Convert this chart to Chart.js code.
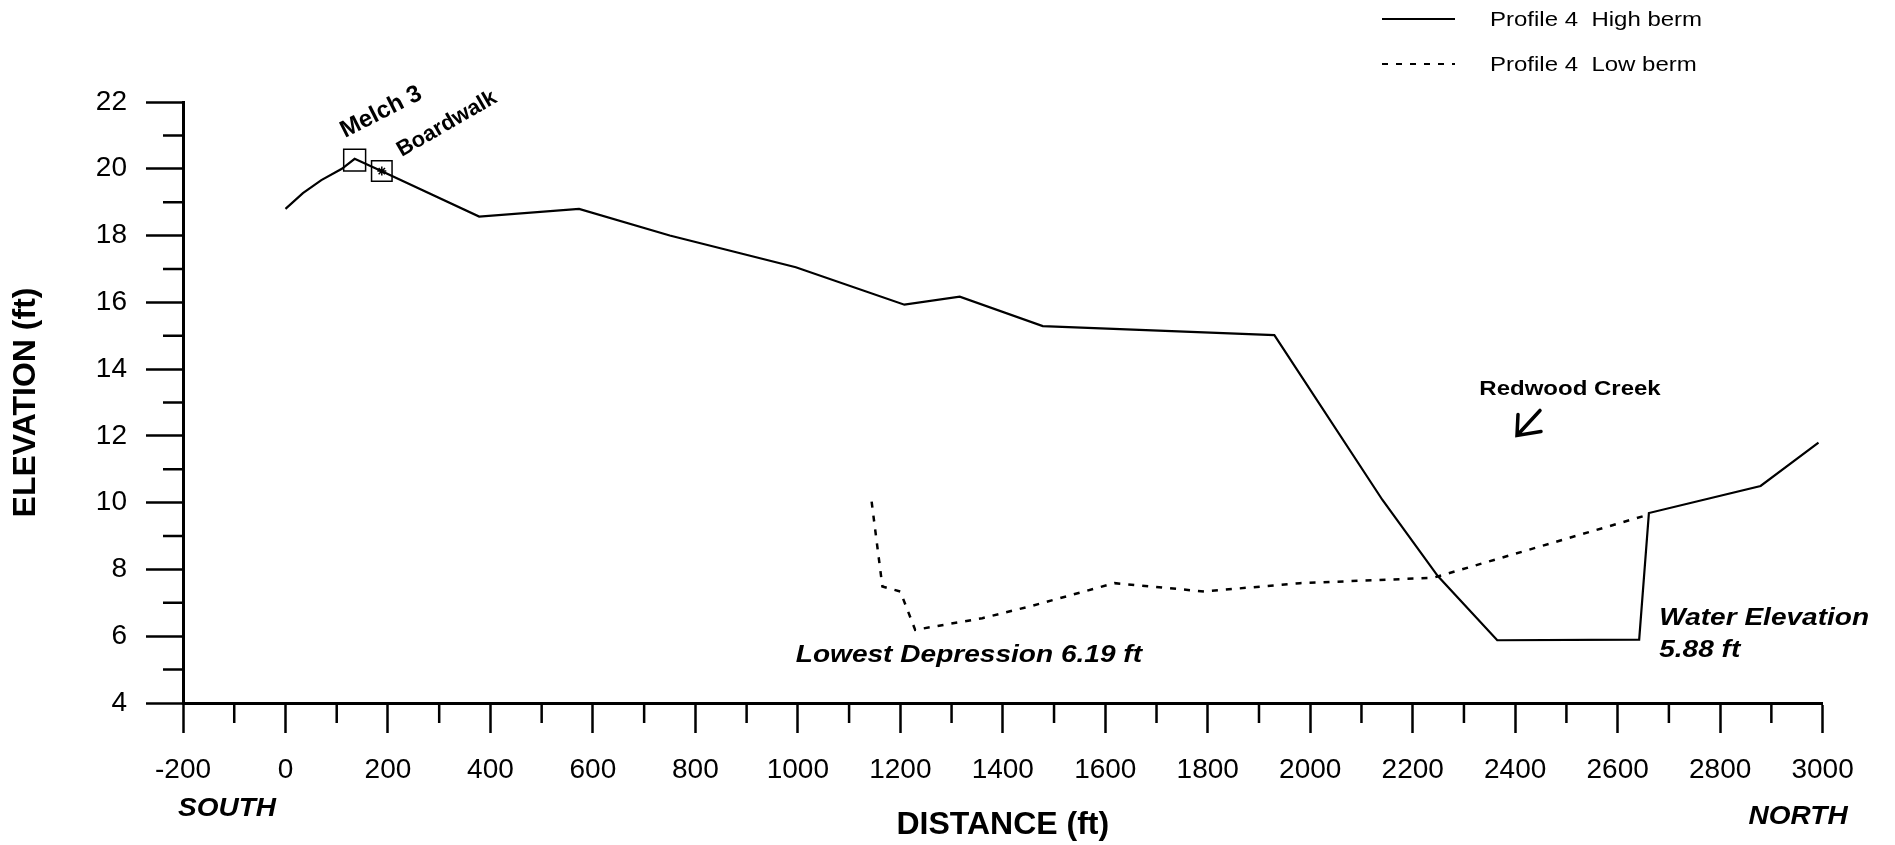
<!DOCTYPE html>
<html>
<head>
<meta charset="utf-8">
<script src="https://cdn.jsdelivr.net/npm/chart.js@4/dist/chart.umd.min.js"></script>
<style>
  html, body { margin: 0; padding: 0; background: #fff; }
  #wrap { width: 1895px; height: 845px; }
</style>
</head>
<body>
<div id="wrap"><canvas id="grafico"></canvas></div>
<script>
// Profile 4 - high berm (solid line)
const distHigh = [0, 34, 70, 110, 135, 185, 378, 573, 750, 996, 1208, 1316, 1478, 1930, 2141, 2249, 2365, 2642, 2661, 2879, 2992];
const elevHigh = [18.8, 19.27, 19.66, 20.0, 20.3, 19.95, 18.57, 18.8, 18.0, 17.05, 15.93, 16.17, 15.29, 15.02, 10.08, 7.8, 5.88, 5.9, 9.69, 10.5, 11.8];

// Profile 4 - low berm (dotted line)
const distLow = [1144, 1155, 1165, 1200, 1229, 1360, 1457, 1618, 1793, 1980, 2240, 2660];
const elevLow = [10.03, 8.7, 7.49, 7.34, 6.19, 6.54, 6.91, 7.59, 7.34, 7.59, 7.75, 9.64];

// marcos (Melch 3, Boardwalk)
const markDist = [135, 188];
const markElev = [20.26, 19.93];

const seriesLabels = ["Profile 4  High berm", "Profile 4  Low berm"];

const FONT = "'Liberation Sans', Arial, sans-serif";

function pts(xs, ys) {
    return xs.map((x, i) => ({ x: x, y: ys[i] }));
}

function drawText(ctx, txt, x, y, font, o) {
    o = o || {};
    ctx.save();
    ctx.translate(x, y);
    if (o.rot) ctx.rotate(o.rot * Math.PI / 180);
    ctx.scale(o.sx || 1, 1);
    ctx.font = font;
    ctx.fillStyle = "#000";
    ctx.textAlign = o.align || "left";
    ctx.textBaseline = o.base || "alphabetic";
    ctx.fillText(txt, 0, 0);
    ctx.restore();
}

// ticks menores, legenda e textos
const extras = {
    id: "extras",
    afterDraw(chart) {
        const ctx = chart.ctx;
        const xs = chart.scales.x, ys = chart.scales.y;
        const area = chart.chartArea;

        ctx.save();
        ctx.strokeStyle = "#000";
        ctx.lineWidth = 2.5;
        ctx.beginPath();
        for (let v = 5; v < 22; v += 2) {
            const py = ys.getPixelForValue(v);
            ctx.moveTo(area.left - 20, py);
            ctx.lineTo(area.left, py);
        }
        for (let v = -100; v < 3000; v += 200) {
            const px = xs.getPixelForValue(v);
            ctx.moveTo(px, area.bottom);
            ctx.lineTo(px, area.bottom + 20);
        }
        ctx.stroke();
        ctx.restore();

        // legenda
        chart.data.datasets.slice(0, 2).forEach((ds, i) => {
            const y = 19 + i * 45;
            ctx.save();
            ctx.strokeStyle = "#000";
            ctx.lineWidth = 2;
            ctx.setLineDash(ds.borderDash || []);
            ctx.beginPath();
            ctx.moveTo(1382, y);
            ctx.lineTo(1455, y);
            ctx.stroke();
            ctx.restore();
            drawText(ctx, ds.label, 1490, y + 1, "20px " + FONT, { base: "middle", sx: 1.2 });
        });

        const P = (x, y) => [xs.getPixelForValue(x), ys.getPixelForValue(y)];
        let p;
        p = P(116, 20.92);
        drawText(ctx, "Melch 3", p[0], p[1], "bold 24px " + FONT, { rot: -27 });
        p = P(227, 20.35);
        drawText(ctx, "Boardwalk", p[0], p[1], "bold 22px " + FONT, { rot: -30 });

        p = P(2507, 13.39);
        drawText(ctx, "Redwood Creek", p[0], p[1], "bold 20px " + FONT, { align: "center", base: "middle", sx: 1.2 });
        // seta
        const tx = p[0] - 53, ty = p[1] + 46;
        ctx.save();
        ctx.strokeStyle = "#000";
        ctx.lineWidth = 3.5;
        ctx.lineCap = "round";
        ctx.beginPath();
        ctx.moveTo(tx + 23, ty - 25);
        ctx.lineTo(tx, ty);
        ctx.moveTo(tx + 1, ty - 21);
        ctx.lineTo(tx, ty);
        ctx.lineTo(tx + 24, ty - 4);
        ctx.stroke();
        ctx.restore();

        const bi = "italic bold 23px " + FONT;
        p = P(996, 5.23);
        drawText(ctx, "Lowest Depression 6.19 ft", p[0], p[1], bi, { sx: 1.22 });
        p = P(2681, 6.34);
        drawText(ctx, "Water Elevation", p[0], p[1], bi, { sx: 1.22 });
        drawText(ctx, "5.88 ft", p[0], p[1] + 32, bi, { sx: 1.22 });

        const bi2 = "italic bold 25px " + FONT;
        drawText(ctx, "SOUTH", xs.getPixelForValue(-200) - 5, area.bottom + 113, bi2, { sx: 1.12 });
        drawText(ctx, "NORTH", xs.getPixelForValue(3000) + 25, area.bottom + 121, bi2, { sx: 1.12, align: "right" });
    }
};

Chart.defaults.font.family = FONT;
Chart.defaults.color = "#000";

const ctx = document.getElementById("grafico").getContext("2d");
const grafico = new Chart(ctx, {
    type: "scatter",
    data: {
        datasets: [{
            label: seriesLabels[0],
            data: pts(distHigh, elevHigh),
            showLine: true,
            borderColor: "#000",
            borderWidth: 2.2,
            pointRadius: 0,
            tension: 0
        }, {
            label: seriesLabels[1],
            data: pts(distLow, elevLow),
            showLine: true,
            borderColor: "#000",
            borderWidth: 2.5,
            borderDash: [6, 8],
            pointRadius: 0,
            tension: 0
        }, {
            label: "marks",
            data: pts(markDist, markElev),
            showLine: false,
            pointStyle: "rect",
            pointRadius: [15.5, 14.5],
            borderColor: "#000",
            borderWidth: 1.5,
            backgroundColor: "rgba(0,0,0,0)"
        }, {
            label: "star",
            data: pts(markDist.slice(1), markElev.slice(1)),
            showLine: false,
            pointStyle: "star",
            pointRadius: 4.5,
            borderColor: "#000",
            borderWidth: 1.5
        }]
    },
    options: {
        responsive: true,
        maintainAspectRatio: false,
        animation: false,
        layout: { padding: { top: 102, left: 7, right: 72.4, bottom: 0 } },
        plugins: {
            legend: { display: false },
            tooltip: { enabled: false }
        },
        scales: {
            x: {
                type: "linear",
                min: -200,
                max: 3000,
                afterFit: (s) => { s.height = 142; },
                ticks: {
                    stepSize: 200,
                    autoSkip: false,
                    maxRotation: 0,
                    padding: 20,
                    font: { size: 28 },
                    callback: (v) => String(v)
                },
                grid: {
                    drawOnChartArea: false,
                    drawTicks: true,
                    tickLength: 30,
                    tickWidth: 2.5,
                    tickColor: "#000"
                },
                border: { display: true, width: 3, color: "#000" },
                title: {
                    display: true,
                    text: "DISTANCE (ft)",
                    font: { size: 32, weight: "bold" },
                    padding: { top: 0, bottom: 1 }
                }
            },
            y: {
                type: "linear",
                min: 4,
                max: 22,
                afterFit: (s) => { s.width = 176; },
                ticks: {
                    stepSize: 2,
                    padding: 19,
                    font: { size: 28 },
                    callback: (v) => String(v)
                },
                grid: {
                    drawOnChartArea: false,
                    drawTicks: true,
                    tickLength: 37,
                    tickWidth: 2.5,
                    tickColor: "#000"
                },
                border: { display: true, width: 3, color: "#000" },
                title: {
                    display: true,
                    text: "ELEVATION (ft)",
                    font: { size: 32, weight: "bold" },
                    padding: 0
                }
            }
        }
    },
    plugins: [extras]
});
</script>
</body>
</html>
